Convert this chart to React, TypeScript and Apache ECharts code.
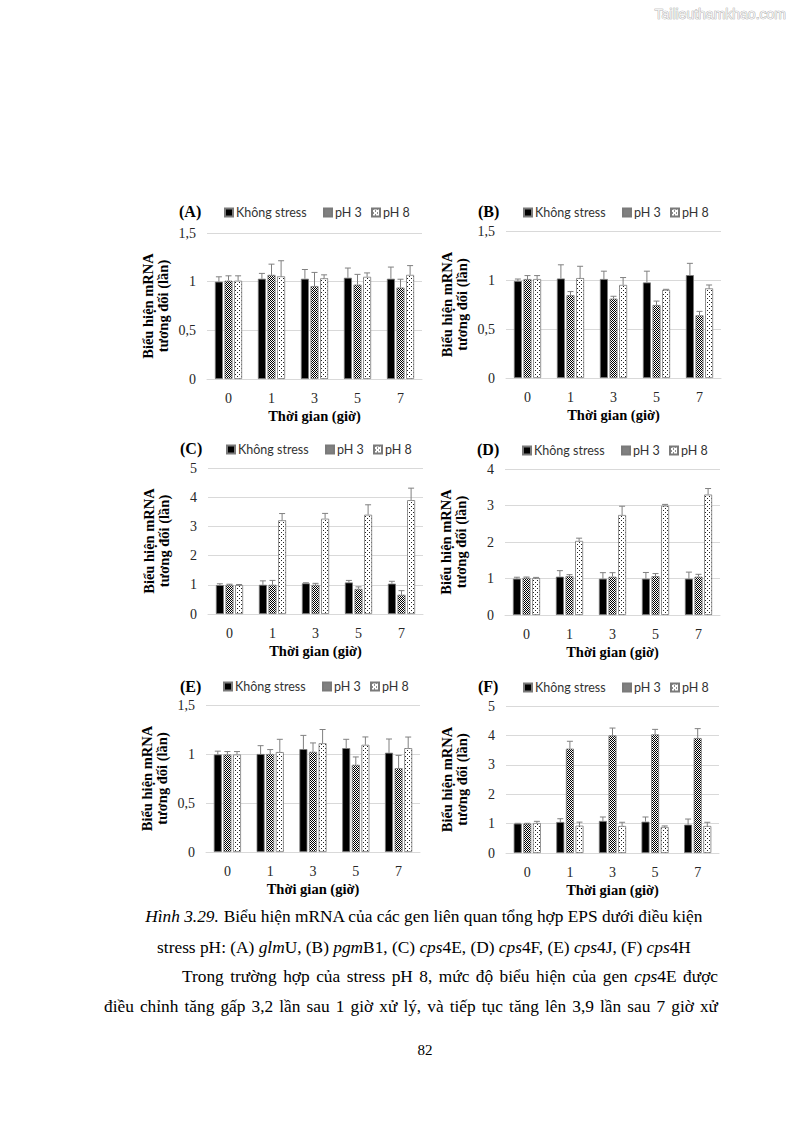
import React, { useEffect, useRef } from "react";
import * as echarts from "echarts";

const categories = ["0", "1", "3", "5", "7"];
const seriesNames = ["Không stress", "pH 3", "pH 8"];

// (A) glmU
const aControl = [1.0, 1.03, 1.03, 1.04, 1.03];
const aPH3 = [1.01, 1.07, 0.955, 0.97, 0.94];
const aPH8 = [1.01, 1.055, 1.035, 1.05, 1.07];
const aControlErr = [0.05, 0.055, 0.095, 0.1, 0.12];
const aPH3Err = [0.05, 0.11, 0.14, 0.105, 0.085];
const aPH8Err = [0.05, 0.16, 0.035, 0.04, 0.095];

// (B) pgmB1
const bControl = [0.99, 1.015, 1.01, 0.975, 1.05];
const bPH3 = [1.01, 0.845, 0.81, 0.745, 0.64];
const bPH8 = [1.01, 1.02, 0.95, 0.9, 0.915];
const bControlErr = [0.02, 0.14, 0.08, 0.115, 0.12];
const bPH3Err = [0.035, 0.037, 0.024, 0.04, 0.04];
const bPH8Err = [0.035, 0.12, 0.075, 0.005, 0.034];

// (C) cps4E
const cControl = [0.99, 1.0, 1.05, 1.08, 1.04];
const cPH3 = [1.0, 1.0, 1.0, 0.86, 0.66];
const cPH8 = [0.99, 3.21, 3.265, 3.4, 3.9];
const cControlErr = [0.045, 0.135, 0.02, 0.07, 0.08];
const cPH3Err = [0.02, 0.15, 0.05, 0.07, 0.14];
const cPH8Err = [0.02, 0.23, 0.18, 0.34, 0.41];

// (D) cps4F
const dControl = [0.995, 1.05, 0.995, 0.995, 0.995];
const dPH3 = [1.02, 1.065, 1.05, 1.065, 1.05];
const dPH8 = [1.01, 2.03, 2.74, 2.995, 3.3];
const dControlErr = [0.04, 0.165, 0.165, 0.17, 0.18];
const dPH3Err = [0.02, 0.04, 0.11, 0.07, 0.065];
const dPH8Err = [0.02, 0.075, 0.24, 0.035, 0.165];

// (E) cps4J
const eControl = [0.995, 1.0, 1.05, 1.06, 1.013];
const ePH3 = [0.995, 1.0, 1.023, 0.89, 0.856];
const ePH8 = [0.995, 1.02, 1.11, 1.094, 1.06];
const eControlErr = [0.034, 0.085, 0.14, 0.09, 0.14];
const ePH3Err = [0.03, 0.045, 0.09, 0.08, 0.13];
const ePH8Err = [0.03, 0.13, 0.14, 0.08, 0.113];

// (F) cps4H
const fControl = [1.0, 1.055, 1.09, 1.065, 0.965];
const fPH3 = [1.0, 3.55, 4.0, 4.035, 3.91];
const fPH8 = [1.02, 0.93, 0.92, 0.885, 0.92];
const fControlErr = [0.01, 0.11, 0.135, 0.16, 0.19];
const fPH3Err = [0.01, 0.25, 0.25, 0.17, 0.32];
const fPH8Err = [0.057, 0.12, 0.125, 0.035, 0.125];

const panelLabels = ["(A)", "(B)", "(C)", "(D)", "(E)", "(F)"];
const yMaxes = [1.5, 1.5, 5, 4, 1.5, 5];
const yIntervals = [0.5, 0.5, 1, 1, 0.5, 1];

const yTitle = "Biểu hiện mRNA\ntương đối (lần)";
const xTitle = "Thời gian (giờ)";

const captionCentered = [
  "{i|Hình 3.29.} Biểu hiện mRNA của các gen liên quan tổng hợp EPS dưới điều kiện",
  "stress pH: (A) {i|glm}U, (B) {i|pgm}B1, (C) {i|cps}4E, (D) {i|cps}4F, (E) {i|cps}4J, (F) {i|cps}4H",
];
const paragraphLines = [
  "Trong trường hợp của stress pH 8, mức độ biểu hiện của gen {i|cps}4E được",
  "điều chỉnh tăng gấp 3,2 lần sau 1 giờ xử lý, và tiếp tục tăng lên 3,9 lần sau 7 giờ xử",
];
const pageNumber = "82";
const watermark = "Tailieuthamkhao.com";

const panels = [
  { values: [aControl, aPH3, aPH8], errs: [aControlErr, aPH3Err, aPH8Err] },
  { values: [bControl, bPH3, bPH8], errs: [bControlErr, bPH3Err, bPH8Err] },
  { values: [cControl, cPH3, cPH8], errs: [cControlErr, cPH3Err, cPH8Err] },
  { values: [dControl, dPH3, dPH8], errs: [dControlErr, dPH3Err, dPH8Err] },
  { values: [eControl, ePH3, ePH8], errs: [eControlErr, ePH3Err, ePH8Err] },
  { values: [fControl, fPH3, fPH8], errs: [fControlErr, fPH3Err, fPH8Err] },
];

// layout (px)
const grids = [
  { left: 207, top: 233, width: 215, height: 146 },
  { left: 506, top: 231, width: 215, height: 147 },
  { left: 208, top: 468, width: 215, height: 146 },
  { left: 505, top: 469, width: 215, height: 146 },
  { left: 206, top: 705, width: 214, height: 147 },
  { left: 506, top: 706, width: 213, height: 147 },
];
const labelPos = [
  [179, 211],
  [478, 211],
  [180, 448],
  [477, 449],
  [180, 686],
  [478, 686],
];
const legendPos = [
  [224, 213],
  [523, 213],
  [226, 450],
  [522, 451],
  [223, 687],
  [523, 688],
];
const legendItemOffsets = [0, 99, 147];

const SERIF_NAME = "Liberation Serif";
const SERIF = "'Liberation Serif', 'Times New Roman', serif";
const SANS = "Lato, 'Open Sans', sans-serif";
const BAR_W = 8;
const BAR_GAP = 0.2;
const BODY_SIZE = 17.33;

function makeCanvas(size: number, draw: (ctx: CanvasRenderingContext2D) => void) {
  const c = document.createElement("canvas");
  c.width = size;
  c.height = size;
  const ctx = c.getContext("2d")!;
  draw(ctx);
  return c;
}

function parseSegs(word: string) {
  const segs: { text: string; italic: boolean }[] = [];
  const re = /\{i\|([^}]*)\}/g;
  let last = 0;
  let m: RegExpExecArray | null;
  while ((m = re.exec(word))) {
    if (m.index > last) segs.push({ text: word.slice(last, m.index), italic: false });
    segs.push({ text: m[1], italic: true });
    last = m.index + m[0].length;
  }
  if (last < word.length) segs.push({ text: word.slice(last), italic: false });
  return segs;
}

export default function App() {
  const ref = useRef<HTMLDivElement>(null);
  useEffect(() => {
    if (!ref.current) return;
    const chart = echarts.init(ref.current, undefined, { renderer: "svg" });

    const checker = makeCanvas(2, (ctx) => {
      ctx.fillStyle = "#ffffff";
      ctx.fillRect(0, 0, 2, 2);
      ctx.fillStyle = "#000000";
      ctx.fillRect(0, 0, 1, 1);
      ctx.fillRect(1, 1, 1, 1);
    });
    const dots = makeCanvas(4, (ctx) => {
      ctx.fillStyle = "#ffffff";
      ctx.fillRect(0, 0, 4, 4);
      ctx.fillStyle = "#222222";
      ctx.fillRect(1, 0, 1, 1);
      ctx.fillRect(3, 2, 1, 1);
    });
    const fills: any[] = [
      "#000000",
      { image: checker, repeat: "repeat" },
      { image: dots, repeat: "repeat" },
    ];

    const mctx = document.createElement("canvas").getContext("2d")!;
    const measureWord = (word: string) =>
      parseSegs(word).reduce((s, seg) => {
        mctx.font = `${seg.italic ? "italic " : ""}${BODY_SIZE}px "${SERIF_NAME}"`;
        return s + mctx.measureText(seg.text).width;
      }, 0);

    const series: any[] = [];
    const xAxes: any[] = [];
    const yAxes: any[] = [];
    const legends: any[] = [];
    const graphics: any[] = [];

    panels.forEach((p, gi) => {
      xAxes.push({
        type: "category",
        gridIndex: gi,
        data: categories,
        axisLine: { lineStyle: { color: "#d9d9d9", width: 1 } },
        axisTick: { show: false },
        axisLabel: { margin: 12, fontFamily: SERIF, fontSize: 14, color: "#262626" },
        name: xTitle,
        nameLocation: "middle",
        nameGap: 29,
        nameTextStyle: { fontFamily: SERIF, fontSize: 14.5, fontWeight: "bold", color: "#000" },
      });
      yAxes.push({
        type: "value",
        gridIndex: gi,
        min: 0,
        max: yMaxes[gi],
        interval: yIntervals[gi],
        axisLine: { show: false },
        axisTick: { show: false },
        splitLine: { lineStyle: { color: "#d9d9d9", width: 1 } },
        axisLabel: {
          margin: 11,
          fontFamily: SERIF,
          fontSize: 14,
          color: "#262626",
          formatter: (v: number) => String(v).replace(".", ","),
        },
        name: yTitle,
        nameLocation: "middle",
        nameRotate: 90,
        nameGap: 37,
        nameTextStyle: { fontFamily: SERIF, fontSize: 14.5, fontWeight: "bold", color: "#000", lineHeight: 15 },
      });
      p.values.forEach((vals, si) => {
        series.push({
          type: "bar",
          name: seriesNames[si],
          xAxisIndex: gi,
          yAxisIndex: gi,
          data: vals,
          barWidth: BAR_W,
          barGap: BAR_GAP * 100 + "%",
          itemStyle: { color: fills[si], borderColor: "#7a7a7a", borderWidth: 0.8 },
          z: 2,
        });
      });
      p.values.forEach((vals, si) => {
        const offset = (si - 1) * BAR_W * (1 + BAR_GAP);
        series.push({
          type: "custom",
          xAxisIndex: gi,
          yAxisIndex: gi,
          z: 5,
          data: vals.map((v, i) => [i, v, p.errs[si][i]]),
          encode: { x: 0, y: 1 },
          renderItem: (params: any, api: any) => {
            const x = api.value(0);
            const v = api.value(1);
            const e = api.value(2);
            const base = api.coord([x, v]);
            const top = api.coord([x, v + e]);
            const cx = base[0] + offset;
            const st = { stroke: "#808080", lineWidth: 1 };
            return {
              type: "group",
              children: [
                { type: "line", shape: { x1: cx, y1: base[1], x2: cx, y2: top[1] }, style: st },
                { type: "line", shape: { x1: cx - 3, y1: top[1], x2: cx + 3, y2: top[1] }, style: st },
              ],
            };
          },
        });
      });
      seriesNames.forEach((nm, k) => {
        legends.push({
          left: legendPos[gi][0] + legendItemOffsets[k],
          top: legendPos[gi][1] - 7,
          padding: 0,
          itemWidth: 8,
          itemHeight: 8,
          icon: "rect",
          selectedMode: false,
          data: [nm],
          textStyle: { fontFamily: SANS, fontSize: 12.5, color: "#333", padding: [0, 0, 0, -2] },
        });
      });
      graphics.push({
        type: "text",
        x: labelPos[gi][0],
        y: labelPos[gi][1],
        style: {
          text: panelLabels[gi],
          fontFamily: SERIF,
          fontSize: 16,
          fontWeight: "bold",
          fill: "#000",
          verticalAlign: "middle",
        },
      });
    });

    const richI = { i: { fontStyle: "italic", fontFamily: SERIF, fontSize: BODY_SIZE, fill: "#000" } };
    const centeredY = [916, 947];
    captionCentered.forEach((t, i) => {
      graphics.push({
        type: "text",
        x: 424,
        y: centeredY[i],
        style: {
          text: t,
          fontFamily: SERIF,
          fontSize: BODY_SIZE,
          fill: "#000",
          align: "center",
          verticalAlign: "middle",
          rich: richI,
        },
      });
    });
    // justified paragraph lines
    const paraX0 = [182, 104];
    const paraX1 = [718, 718];
    const paraY = [976, 1006];
    paragraphLines.forEach((line, li) => {
      const words = line.split(" ");
      const widths = words.map(measureWord);
      const total = widths.reduce((a, b) => a + b, 0);
      const gap = (paraX1[li] - paraX0[li] - total) / (words.length - 1);
      let x = paraX0[li];
      words.forEach((w, wi) => {
        graphics.push({
          type: "text",
          x,
          y: paraY[li],
          style: {
            text: w,
            fontFamily: SERIF,
            fontSize: BODY_SIZE,
            fill: "#000",
            verticalAlign: "middle",
            rich: richI,
          },
        });
        x += widths[wi] + gap;
      });
    });
    graphics.push({
      type: "text",
      x: 425,
      y: 1050,
      style: { text: pageNumber, fontFamily: SERIF, fontSize: 15, fill: "#000", align: "center", verticalAlign: "middle" },
    });
    graphics.push({
      type: "text",
      x: 786,
      y: 14,
      style: {
        text: watermark,
        fontFamily: "'Liberation Sans', Arial, sans-serif",
        fontSize: 14,
        fill: "#f2f2f2",
        stroke: "#9a9a9a",
        lineWidth: 0.7,
        align: "right",
        verticalAlign: "middle",
      },
    });

    chart.setOption({
      animation: false,
      backgroundColor: "#ffffff",
      grid: grids.map((g) => ({ ...g, containLabel: false })),
      xAxis: xAxes,
      yAxis: yAxes,
      legend: legends,
      series,
      graphic: graphics,
    });
    return () => chart.dispose();
  }, []);
  return (
    <div
      ref={ref}
      style={{ position: "absolute", left: 0, top: 0, width: 794, height: 1123, background: "#fff" }}
    />
  );
}
